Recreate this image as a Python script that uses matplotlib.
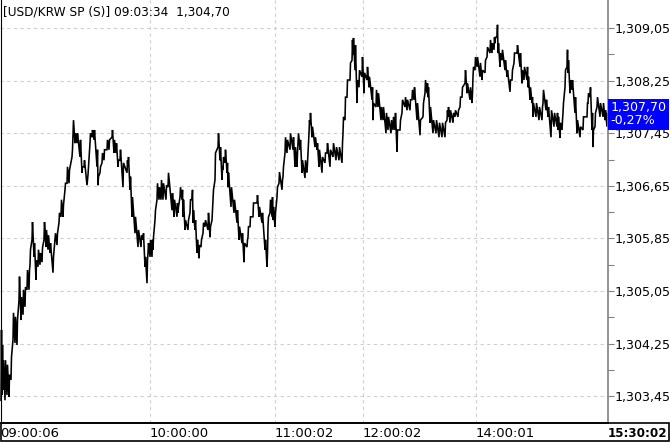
import matplotlib
matplotlib.use('Agg')
import matplotlib.pyplot as plt
import matplotlib.transforms as mtransforms
from matplotlib.patches import Rectangle
import numpy as np

# tick index of each sampled column (session runs 0..608)
tick_pos = [1, 2, 3, 5, 7, 9, 11, 13, 15, 17, 19, 21, 23, 25, 27, 29, 30, 32, 34, 36,
            38, 40, 42, 44, 46, 48, 50, 53, 55, 57, 59, 61, 63, 65, 67, 69, 72, 73, 75, 77,
            80, 82, 84, 87, 88, 90, 92, 94, 97, 98, 100, 102, 104, 107, 109, 112, 114, 116, 118, 120,
            123, 127, 128, 130, 132, 135, 138, 141, 143, 145, 147, 148, 150, 152, 153, 155, 157, 159, 161, 163,
            166, 168, 172, 174, 177, 178, 180, 182, 183, 185, 188, 190, 192, 193, 195, 197, 199, 201, 203, 205,
            208, 210, 212, 213, 215, 218, 220, 222, 223, 225, 227, 228, 231, 234, 237, 239, 242, 244, 247, 248,
            250, 253, 257, 259, 262, 265, 267, 268, 270, 272, 273, 275, 277, 279, 282, 283, 285, 287, 290, 293,
            295, 297, 298, 300, 302, 305, 307, 309, 310, 312, 315, 317, 319, 322, 325, 327, 330, 333, 336, 339,
            342, 343, 345, 347, 350, 352, 353, 355, 357, 359, 362, 364, 367, 369, 372, 373, 376, 378, 381, 383,
            386, 388, 391, 393, 395, 397, 400, 402, 405, 407, 410, 412, 414, 417, 420, 423, 425, 427, 428, 430,
            433, 436, 439, 442, 445, 447, 448, 450, 453, 455, 458, 460, 462, 465, 467, 470, 472, 473, 475, 477,
            480, 482, 485, 487, 490, 492, 494, 495, 497, 498, 500, 502, 505, 507, 510, 512, 514, 517, 520, 522,
            524, 527, 528, 530, 532, 533, 536, 539, 542, 543, 546, 548, 551, 554, 557, 558, 560, 562, 563, 565,
            567, 568, 570, 572, 575, 577, 580, 583, 587, 588, 590, 592, 593, 595, 597, 600, 603, 605, 607]

price_high = [1304.46, 1304.23, 1304.00, 1304.00, 1303.93, 1303.78, 1304.05, 1304.72, 1304.66, 1304.61,
              1305.27, 1304.96, 1305.07, 1305.11, 1305.37, 1305.37, 1305.68, 1306.10, 1305.78, 1305.52,
              1305.68, 1305.63, 1305.71, 1306.10, 1305.98, 1305.90, 1305.78, 1305.57, 1305.93, 1305.93,
              1306.24, 1306.44, 1306.36, 1306.69, 1306.94, 1306.89, 1307.20, 1307.65, 1307.45, 1307.45,
              1307.35, 1306.94, 1307.04, 1306.74, 1306.94, 1307.45, 1307.50, 1307.50, 1307.20, 1306.79,
              1306.94, 1307.15, 1307.20, 1307.35, 1307.35, 1307.50, 1307.35, 1307.30, 1307.04, 1307.20,
              1307.00, 1307.04, 1307.09, 1306.79, 1306.48, 1306.18, 1305.98, 1305.90, 1305.93, 1305.57,
              1305.52, 1305.78, 1305.83, 1305.83, 1305.87, 1306.28, 1306.69, 1306.63, 1306.74, 1306.69,
              1306.66, 1306.85, 1306.54, 1306.44, 1306.39, 1306.33, 1306.63, 1306.59, 1306.44, 1306.13,
              1306.13, 1306.44, 1306.59, 1306.28, 1306.13, 1305.83, 1305.75, 1305.83, 1306.09, 1306.13,
              1306.24, 1306.03, 1306.28, 1306.59, 1307.15, 1307.45, 1307.24, 1306.94, 1307.09, 1307.20,
              1307.00, 1306.85, 1306.63, 1306.44, 1306.28, 1306.03, 1305.93, 1305.78, 1305.83, 1306.03,
              1306.18, 1306.39, 1306.51, 1306.33, 1306.24, 1305.83, 1305.63, 1306.18, 1306.44, 1306.48,
              1306.33, 1306.24, 1306.63, 1306.86, 1306.74, 1306.94, 1307.39, 1307.35, 1307.45, 1307.39,
              1307.24, 1307.15, 1307.45, 1307.35, 1307.04, 1307.04, 1307.00, 1307.65, 1307.76, 1307.55,
              1307.39, 1307.30, 1307.20, 1307.09, 1307.15, 1307.30, 1307.20, 1307.30, 1307.24, 1307.24,
              1307.30, 1307.70, 1308.00, 1308.26, 1308.52, 1308.87, 1308.90, 1308.79, 1308.26, 1308.41,
              1308.61, 1308.37, 1308.46, 1308.31, 1308.15, 1307.91, 1308.11, 1308.06, 1307.85, 1307.85,
              1307.76, 1307.70, 1307.65, 1307.70, 1307.76, 1307.50, 1307.65, 1307.96, 1308.00, 1307.96,
              1307.96, 1308.11, 1308.15, 1307.91, 1307.65, 1307.91, 1308.26, 1308.21, 1308.15, 1307.85,
              1307.65, 1307.65, 1307.61, 1307.61, 1307.61, 1307.80, 1307.85, 1307.80, 1307.76, 1307.80,
              1307.80, 1308.00, 1308.15, 1308.41, 1308.21, 1308.15, 1308.06, 1308.46, 1308.61, 1308.61,
              1308.52, 1308.41, 1308.56, 1308.76, 1308.87, 1308.82, 1308.91, 1308.91, 1309.10, 1308.82,
              1308.67, 1308.72, 1308.56, 1308.41, 1308.26, 1308.41, 1308.67, 1308.79, 1308.67, 1308.41,
              1308.46, 1308.46, 1308.31, 1308.15, 1308.00, 1307.91, 1307.91, 1307.85, 1307.85, 1308.11,
              1307.96, 1307.85, 1307.80, 1307.76, 1307.76, 1307.70, 1307.61, 1307.65, 1307.91, 1308.41,
              1308.72, 1308.56, 1308.26, 1308.26, 1308.00, 1307.65, 1307.55, 1307.70, 1307.91, 1308.06,
              1308.15, 1307.76, 1307.50, 1307.76, 1308.00, 1307.91, 1307.91, 1307.80, 1307.76]

price_low = [1303.39, 1303.47, 1303.55, 1303.39, 1303.47, 1303.44, 1303.70, 1304.31, 1304.26, 1304.23,
             1304.91, 1304.61, 1304.69, 1304.81, 1305.07, 1305.07, 1305.45, 1305.83, 1305.57, 1305.22,
             1305.42, 1305.45, 1305.49, 1305.83, 1305.72, 1305.68, 1305.63, 1305.33, 1305.83, 1305.75,
             1306.09, 1306.18, 1306.18, 1306.59, 1306.69, 1306.69, 1307.09, 1307.45, 1307.30, 1307.30,
             1307.09, 1306.85, 1306.94, 1306.66, 1306.82, 1307.30, 1307.39, 1307.35, 1306.94, 1306.66,
             1306.85, 1307.00, 1307.04, 1307.20, 1307.20, 1307.39, 1307.15, 1307.15, 1306.94, 1307.04,
             1306.63, 1306.85, 1306.94, 1306.59, 1306.18, 1305.93, 1305.72, 1305.72, 1305.83, 1305.42,
             1305.17, 1305.63, 1305.57, 1305.57, 1305.68, 1306.13, 1306.44, 1306.44, 1306.44, 1306.44,
             1306.44, 1306.63, 1306.28, 1306.18, 1306.18, 1306.24, 1306.48, 1306.44, 1306.18, 1305.98,
             1305.98, 1306.24, 1306.44, 1306.09, 1305.98, 1305.63, 1305.55, 1305.72, 1305.93, 1306.03,
             1305.98, 1305.87, 1306.13, 1306.44, 1306.74, 1307.24, 1307.04, 1306.74, 1306.89, 1307.00,
             1306.85, 1306.63, 1306.33, 1306.24, 1306.09, 1305.83, 1305.78, 1305.49, 1305.72, 1305.87,
             1306.03, 1306.18, 1306.39, 1306.18, 1306.09, 1305.68, 1305.42, 1306.03, 1306.24, 1306.18,
             1306.13, 1306.03, 1306.48, 1306.69, 1306.59, 1306.79, 1307.15, 1307.15, 1307.20, 1307.20,
             1306.94, 1306.94, 1307.30, 1307.20, 1306.85, 1306.77, 1306.85, 1307.45, 1307.58, 1307.39,
             1307.24, 1307.20, 1306.94, 1306.85, 1307.00, 1307.15, 1306.94, 1307.09, 1307.04, 1307.04,
             1307.00, 1307.45, 1307.65, 1308.00, 1308.26, 1308.56, 1308.64, 1308.41, 1307.91, 1308.15,
             1308.31, 1308.06, 1308.26, 1308.15, 1307.96, 1307.65, 1307.85, 1307.85, 1307.65, 1307.65,
             1307.45, 1307.50, 1307.45, 1307.50, 1307.50, 1307.17, 1307.50, 1307.76, 1307.85, 1307.80,
             1307.80, 1307.96, 1307.96, 1307.65, 1307.42, 1307.70, 1308.06, 1308.06, 1308.00, 1307.61,
             1307.45, 1307.45, 1307.39, 1307.39, 1307.39, 1307.65, 1307.70, 1307.61, 1307.61, 1307.70,
             1307.70, 1307.85, 1308.00, 1308.21, 1308.06, 1307.96, 1307.91, 1308.31, 1308.41, 1308.46,
             1308.31, 1308.26, 1308.37, 1308.61, 1308.67, 1308.67, 1308.72, 1308.82, 1308.91, 1308.67,
             1308.46, 1308.56, 1308.41, 1308.31, 1308.08, 1308.26, 1308.52, 1308.67, 1308.46, 1308.21,
             1308.26, 1308.26, 1308.15, 1307.96, 1307.91, 1307.70, 1307.70, 1307.65, 1307.65, 1307.91,
             1307.80, 1307.70, 1307.39, 1307.55, 1307.55, 1307.50, 1307.38, 1307.50, 1307.76, 1308.15,
             1308.46, 1308.37, 1308.06, 1308.11, 1307.76, 1307.45, 1307.39, 1307.50, 1307.70, 1307.91,
             1308.00, 1307.50, 1307.24, 1307.55, 1307.85, 1307.70, 1307.70, 1307.65, 1307.55]

last_price = 1307.70
last_change = '-0,27%'
title_text = '[USD/KRW SP (S)] 09:03:34  1,304,70'

time_pos = [0, 150, 275, 363, 476, 608]
time_labels = ['09:00:06', '10:00:00', '11:00:02', '12:00:02', '14:00:01', '15:30:02']

y_major = [1303.45, 1304.25, 1305.05, 1305.85, 1306.65, 1307.45, 1308.25, 1309.05]
y_minor = [1303.85, 1304.65, 1305.45, 1306.25, 1307.05, 1307.85, 1308.65]


def kr_fmt(v):
    return f'{v:,.2f}'.replace('.', ',')


# each column drawn low->high, so the joins form a sawtooth like tick data
xs, ys = [], []
for p, hi, lo in zip(tick_pos, price_high, price_low):
    xs += [p, p + 0.5]
    ys += [lo, hi]
xs.append(tick_pos[-1] + 1)
ys.append(last_price)

W, H = 670, 442
fig = plt.figure(figsize=(W / 100, H / 100), dpi=100)
fig.patch.set_facecolor('white')
ax = fig.add_axes([0 / W, 19 / H, 608 / W, 423 / H])

ax.plot(xs, ys, color='black', lw=1.15, solid_joinstyle='miter')

ax.set_xlim(0, 608)
ax.set_ylim(1303.044, 1309.477)

grid_kw = dict(color='#cfcfcf', lw=0.8, ls=(0, (3, 3)), zorder=0)
for v in y_major:
    ax.axhline(v, **grid_kw)
for t in time_pos[1:-1]:
    ax.axvline(t, **grid_kw)

ax.yaxis.tick_right()
ax.set_yticks(y_major)
ax.set_yticklabels([kr_fmt(v) for v in y_major])
ax.set_yticks(y_minor, minor=True)
ax.tick_params(axis='y', which='both', direction='out', length=4, width=0.8,
               color='#808080', labelsize=9.1, pad=1)

ax.set_xticks(time_pos)
ax.set_xticklabels(time_labels)
ax.tick_params(axis='x', length=0, labelsize=9.5, pad=3)
for lab in ax.get_xticklabels():
    lab.set_horizontalalignment('left')
last_lab = ax.get_xticklabels()[-1]
last_lab.set_fontweight('bold')
last_lab.set_fontsize(8.6)

ax.spines['top'].set_visible(False)
ax.spines['right'].set_color('#808080')
ax.spines['right'].set_linewidth(1.2)
ax.spines['left'].set_color('black')
ax.spines['left'].set_position(('outward', -1))
ax.spines['bottom'].set_color('black')
ax.spines['bottom'].set_linewidth(1.2)

# time strip border under the chart
fig.patches.append(Rectangle((1 / W, 1 / H), 668 / W, 18 / H, transform=fig.transFigure,
                             fill=False, edgecolor='black', lw=1.2))

fig.text(3 / W, 1 - 12 / H, title_text, fontsize=8.7, va='center', ha='left')

# last-price badge on the price axis
trans = mtransforms.blended_transform_factory(ax.transAxes, ax.transData)
ax.text(1.004, last_price + 0.04, kr_fmt(last_price) + '\n' + last_change, transform=trans,
        color='white', fontsize=9.1, va='center', ha='left', linespacing=1.0, clip_on=False,
        bbox=dict(boxstyle='square,pad=0.2', facecolor='#0000ff', edgecolor='none'))

fig.savefig('out.png', dpi=100)
